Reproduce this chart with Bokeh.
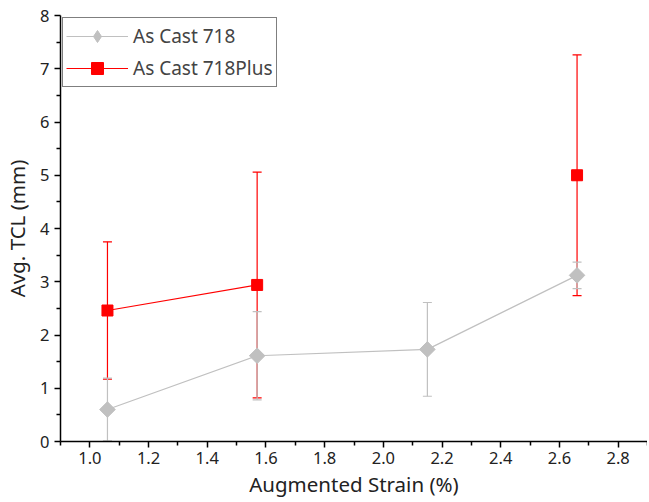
import math
from bokeh.plotting import figure
from bokeh.models import ColumnDataSource, Whisker, TeeHead, FixedTicker, Legend, LegendItem, PrintfTickFormatter
from bokeh.embed import file_html
from bokeh.resources import INLINE

# data
strain_718 = [1.06, 1.57, 2.15, 2.66]
tcl_718 = [0.60, 1.61, 1.73, 3.12]
err_718 = [0.59, 0.83, 0.88, 0.25]

strain_plus = [1.06, 1.57, 2.66]
tcl_plus = [2.46, 2.94, 5.00]
err_plus = [1.29, 2.12, 2.26]
plus_connected = 2  # only the first two points are joined by a line

x_ticks = [1.0, 1.2, 1.4, 1.6, 1.8, 2.0, 2.2, 2.4, 2.6, 2.8]
x_minor = [0.9, 1.1, 1.3, 1.5, 1.7, 1.9, 2.1, 2.3, 2.5, 2.7, 2.9]
y_ticks = [0, 1, 2, 3, 4, 5, 6, 7, 8]
y_minor = [0.5, 1.5, 2.5, 3.5, 4.5, 5.5, 6.5, 7.5]

FONT = "Noto Sans"
GRAY = "#c0c0c0"
RED = "#ff0000"

p = figure(width=647, height=500, output_backend="svg", toolbar_location=None,
           x_range=(0.9, 2.9), y_range=(0, 8),
           min_border_left=60, min_border_top=15, min_border_right=0, min_border_bottom=58)
p.outline_line_color = None
p.grid.visible = False

s718 = ColumnDataSource(dict(x=strain_718, y=tcl_718,
                             lo=[a - b for a, b in zip(tcl_718, err_718)],
                             hi=[a + b for a, b in zip(tcl_718, err_718)]))
splus = ColumnDataSource(dict(x=strain_plus, y=tcl_plus,
                              lo=[a - b for a, b in zip(tcl_plus, err_plus)],
                              hi=[a + b for a, b in zip(tcl_plus, err_plus)]))
splus_line = ColumnDataSource(dict(x=strain_plus[:plus_connected], y=tcl_plus[:plus_connected]))

w_plus = Whisker(base="x", upper="hi", lower="lo", source=splus, line_color=RED, line_width=1.2,
                 upper_head=TeeHead(size=9, line_color=RED, line_width=1.2),
                 lower_head=TeeHead(size=9, line_color=RED, line_width=1.2))
w_718 = Whisker(base="x", upper="hi", lower="lo", source=s718, line_color=GRAY, line_width=1.2,
                upper_head=TeeHead(size=9, line_color=GRAY, line_width=1.2),
                lower_head=TeeHead(size=9, line_color=GRAY, line_width=1.2))
p.add_layout(w_plus)
p.add_layout(w_718)

l1 = p.line("x", "y", source=s718, line_color=GRAY, line_width=1.2)
# legend glyph (hidden underneath the rotated square drawn on top)
lg1 = p.scatter("x", "y", source=s718, marker="diamond", size=14, fill_color=GRAY, line_color=GRAY)
m1 = p.scatter("x", "y", source=s718, marker="square", angle=math.pi / 4, size=11,
               fill_color=GRAY, line_color=GRAY)
l2 = p.line("x", "y", source=splus_line, line_color=RED, line_width=1.2)
lg2 = p.scatter("x", "y", source=splus, marker="square", size=9, fill_color=RED, line_color=RED)
m2 = p.scatter("x", "y", source=splus, marker="square", size=11, fill_color=RED, line_color=RED)

# axes
p.xaxis.ticker = FixedTicker(ticks=x_ticks, minor_ticks=x_minor)
p.yaxis.ticker = FixedTicker(ticks=y_ticks, minor_ticks=y_minor)
p.xaxis.formatter = PrintfTickFormatter(format="%.1f")
for ax in (p.xaxis[0], p.yaxis[0]):
    ax.axis_line_width = 1.5
    ax.axis_line_color = "black"
    ax.major_tick_line_width = 1.5
    ax.minor_tick_line_width = 1.5
    ax.major_tick_out = 6
    ax.major_tick_in = 0
    ax.minor_tick_out = 4
    ax.minor_tick_in = 0
    ax.major_label_text_font = FONT
    ax.major_label_text_font_size = "16.5px"
    ax.major_label_text_color = "#222222"
    ax.axis_label_text_font = FONT
    ax.axis_label_text_font_size = "20.5px"
    ax.axis_label_text_font_style = "normal"
    ax.axis_label_text_color = "#222222"
p.xaxis.axis_label = "Augmented Strain (%)"
p.yaxis.axis_label = "Avg. TCL (mm)"
p.xaxis.major_label_standoff = 4
p.yaxis.major_label_standoff = 5
p.xaxis.axis_label_standoff = 3
p.yaxis.axis_label_standoff = 6

legend = Legend(items=[LegendItem(label="As Cast 718", renderers=[l1, lg1]),
                       LegendItem(label="As Cast 718Plus", renderers=[l2, lg2])],
                location="top_left")
legend.label_text_font = FONT
legend.label_text_font_size = "19px"
legend.glyph_width = 62
legend.glyph_height = 30
legend.label_height = 30
legend.spacing = 2
legend.padding = 3
legend.margin = 2
legend.border_line_color = "black"
legend.border_line_width = 1
legend.background_fill_alpha = 1
p.add_layout(legend)

open("out.html", "w").write(file_html(p, INLINE))
